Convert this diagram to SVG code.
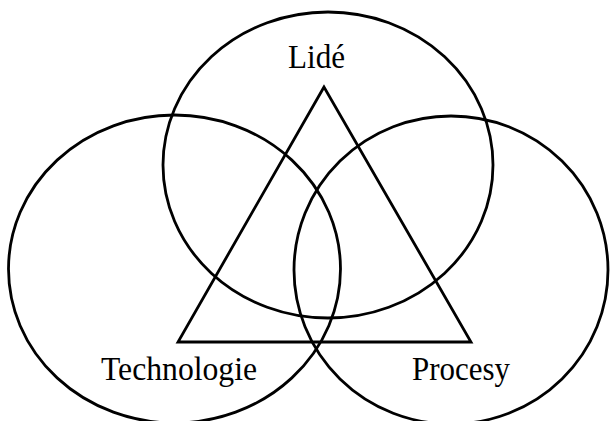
<svg xmlns="http://www.w3.org/2000/svg" width="610" height="421" viewBox="0 0 610 421">
<style>
.s{fill:none;stroke:#000;stroke-width:2.8}
text{font-family:"Liberation Serif","Times New Roman",serif;font-size:33px;fill:#000}
</style>
<rect width="610" height="421" fill="#fff"/>
<g id="node-lide">
<ellipse class="s" cx="328" cy="165" rx="165" ry="153"/>
<text x="288" y="68" textLength="57" lengthAdjust="spacingAndGlyphs">Lidé</text>
</g>
<g id="node-technologie">
<ellipse class="s" cx="174.5" cy="269" rx="166" ry="154"/>
<text x="101" y="380" textLength="156" lengthAdjust="spacingAndGlyphs">Technologie</text>
</g>
<g id="node-procesy">
<ellipse class="s" cx="451" cy="270" rx="157" ry="154"/>
<text x="412" y="380" textLength="98" lengthAdjust="spacingAndGlyphs">Procesy</text>
</g>
<g id="connectors">
<polygon class="s" points="324,87 178,342 471,342"/>
</g>
</svg>
